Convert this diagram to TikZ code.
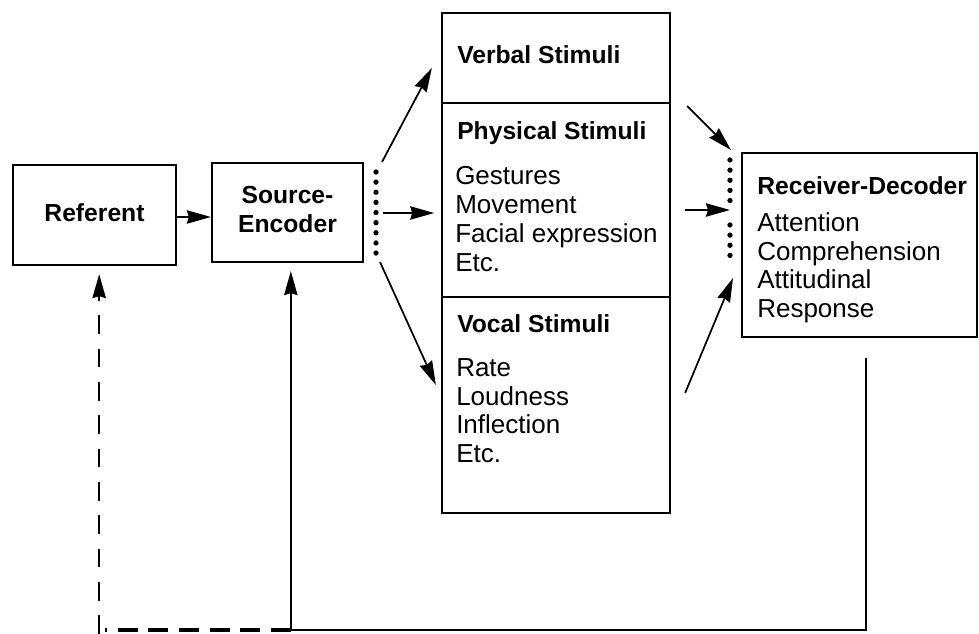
\documentclass[tikz,border=0pt]{standalone}
\usepackage{fontspec}
\setmainfont{Liberation Sans}
\usetikzlibrary{arrows.meta,fit}

\begin{document}
\begin{tikzpicture}[
  x=0.75pt, y=-0.75pt,
  box/.style={draw, line width=1.7pt, inner sep=0pt},
  boxtext/.style={font=\fontsize{18.5}{21}\selectfont\bfseries, inner sep=0pt, align=center},
  title/.style={font=\fontsize{18.5}{21}\selectfont\bfseries, inner sep=0pt, anchor=base west},
  item/.style={font=\fontsize{19.5}{22}\selectfont, inner sep=0pt, anchor=base west},
  arr/.style={-{Stealth[length=18pt,width=10pt,inset=1.5pt]}, line width=1.3pt},
  dots/.style={line width=4pt, line cap=round, dash pattern=on 0pt off 7.6pt},
  fb/.style={line width=1.8pt},
  fbdash/.style={line width=2.4pt, dash pattern=on 15pt off 8pt},
  vdash/.style={line width=1.6pt, dash pattern=on 14pt off 11pt}
]
\useasboundingbox (0,0) rectangle (979,634);

% ---- boxes ----
\node[box, fit={(13,165) (176,265)}] (referent) {};
\node[box, fit={(212,163) (363,262)}] (encoder) {};
\node[box, fit={(442,13) (670,103)}] (verbal) {};
\node[box, fit={(442,103) (670,297)}] (physical) {};
\node[box, fit={(442,297) (670,513)}] (vocal) {};
\node[box, fit={(742,153) (977,337)}] (receiver) {};

\node[boxtext] (referent-t) at ([yshift=2]referent.center) {Referent};
\node[boxtext] (encoder-t) at ([yshift=2]encoder.center) {Source-\\[1pt]Encoder};

% ---- stimulus texts ----
\node[title] (verbal-t) at (457,64) {Verbal Stimuli};
\node[title] (physical-t) at (457,140) {Physical Stimuli};
\foreach \t [count=\i] in {Gestures, Movement, Facial expression, Etc.}
  \node[item] (physical-\i) at (455,{185+(\i-1)*29}) {\t};
\node[title] (vocal-t) at (457,333) {Vocal Stimuli};
\foreach \t [count=\i] in {Rate, Loudness, Inflection, Etc.}
  \node[item] (vocal-\i) at (456,{377+(\i-1)*28.5}) {\t};
\node[title] (receiver-t) at (757,195) {Receiver-Decoder};
\foreach \t [count=\i] in {Attention, Comprehension, Attitudinal, Response}
  \node[item] (receiver-\i) at (757,{232+(\i-1)*28.5}) {\t};

% ---- dotted channel marks ----
\coordinate (sd-top) at (376,172);
\coordinate (sd-bot) at (376,255);
\draw[dots] (sd-top) -- (sd-bot);
\coordinate (rd-top) at (730,160);
\coordinate (rd-mid1) at (730,205);
\coordinate (rd-mid2) at (730,225);
\coordinate (rd-bot) at (730,263);
\draw[dots] (rd-top) -- (rd-mid1);
\draw[dots] (rd-mid2) -- (rd-bot);

% ---- forward arrows ----
\draw[arr] (referent.east |- 0,217) -- (encoder.west |- 0,217);
\draw[arr] ([shift={(6,-10)}]sd-top) -- ([shift={(-9,10)}]verbal.west);
\coordinate (sd-mid) at (383,213);
\draw[arr] (sd-mid) -- ([xshift=-5]sd-mid -| physical.west);
\draw[arr] ([shift={(4,7)}]sd-bot) -- ([shift={(-5,-20)}]vocal.west);

\draw[arr] ([shift={(16,48)}]verbal.east) -- ([shift={(1,-10)}]rd-top);
\coordinate (ph-out) at (685,210);
\draw[arr] (ph-out) -- (rd-mid1 |- ph-out);
\draw[arr] ([shift={(14,-12)}]vocal.east) -- ([shift={(3,15)}]rd-bot);

% ---- feedback loop ----
\coordinate (base) at (0,630);
\coordinate (fb-start) at ([shift={(6.5,20)}]receiver.south);
\coordinate (enc-foot) at ([xshift=2.5]encoder.south |- base);
\coordinate (ref-foot) at ([xshift=3.5]referent.south |- base);
\draw[fb] (fb-start) -- (fb-start |- base) -- (enc-foot);
\draw[arr, shorten >=6pt] (enc-foot) -- ([xshift=2.5]encoder.south);
\draw[fbdash] (enc-foot) -- ([xshift=4]ref-foot);
\draw[arr, vdash, shorten >=6pt] ([yshift=-3]ref-foot) -- ([xshift=3.5]referent.south);
\end{tikzpicture}
\end{document}
